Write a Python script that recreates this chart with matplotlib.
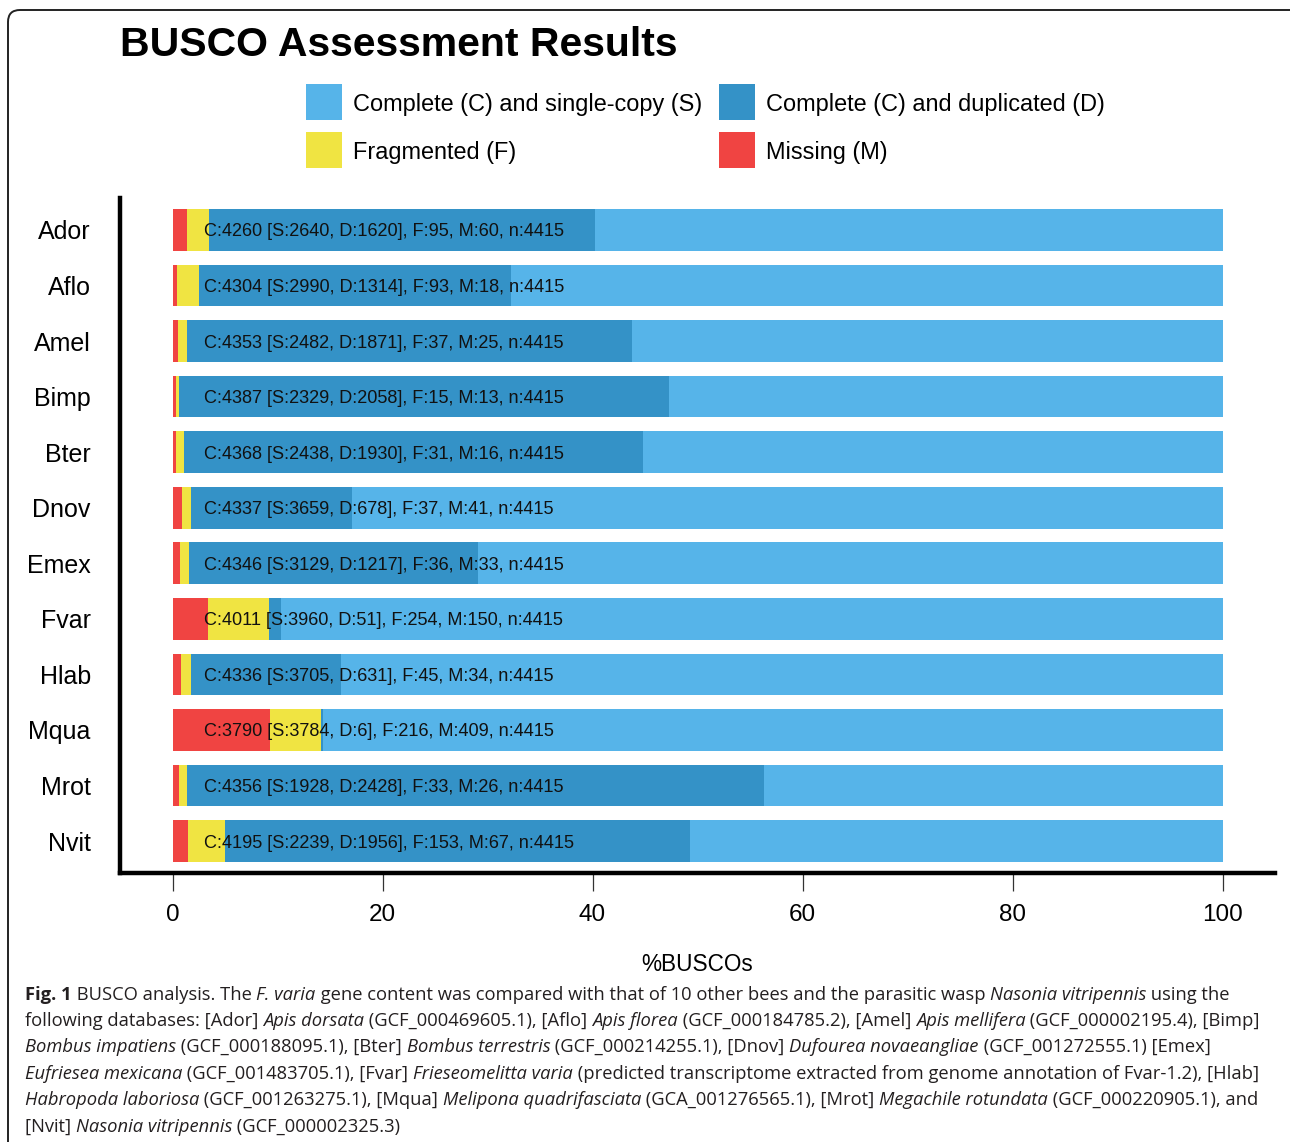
import matplotlib
matplotlib.use("Agg")
import matplotlib.pyplot as plt
from matplotlib.patches import FancyBboxPatch, Rectangle
from matplotlib.transforms import IdentityTransform
import numpy as np

plt.rcParams['font.family'] = ['Liberation Sans', 'DejaVu Sans']

species = ["Ador", "Aflo", "Amel", "Bimp", "Bter", "Dnov", "Emex", "Fvar", "Hlab", "Mqua", "Mrot", "Nvit"]
single = [2640, 2990, 2482, 2329, 2438, 3659, 3129, 3960, 3705, 3784, 1928, 2239]
dup = [1620, 1314, 1871, 2058, 1930, 678, 1217, 51, 631, 6, 2428, 1956]
frag = [95, 93, 37, 15, 31, 37, 36, 254, 45, 216, 33, 153]
miss = [60, 18, 25, 13, 16, 41, 33, 150, 34, 409, 26, 67]
total = [4415] * 12
xticks = [0, 20, 40, 60, 80, 100]

col_S = "#56B4E9"
col_D = "#3492C7"
col_F = "#F0E442"
col_M = "#F04442"

W, H = 1290, 1142
fig = plt.figure(figsize=(W / 100, H / 100), dpi=100)

def fx(px):
    return px / W

def fy(py):
    return 1 - py / H

# axes: left 120, right 1275, top 198, bottom 873 (pixels from top)
ax = fig.add_axes([fx(120), fy(873), fx(1275) - fx(120), (873 - 198) / H])

S = np.array(single) / np.array(total) * 100
D = np.array(dup) / np.array(total) * 100
F = np.array(frag) / np.array(total) * 100
M = np.array(miss) / np.array(total) * 100
y = np.arange(len(species)) + 1
h = 0.75
ax.barh(y, M, left=0, height=h, color=col_M, linewidth=0)
ax.barh(y, F, left=M, height=h, color=col_F, linewidth=0)
ax.barh(y, D, left=M + F, height=h, color=col_D, linewidth=0)
ax.barh(y, S, left=M + F + D, height=h, color=col_S, linewidth=0)

for i in range(len(species)):
    c = single[i] + dup[i]
    lab = f"C:{c} [S:{single[i]}, D:{dup[i]}], F:{frag[i]}, M:{miss[i]}, n:{total[i]}"
    ax.text(3, y[i], lab, ha="left", va="center_baseline", fontsize=13.1, color="#111111")

ax.set_xlim(-5, 105)
ax.set_ylim(12.576, 0.424)
ax.set_yticks(y)
ax.set_yticklabels(species, fontsize=18)
ax.set_xticks(xticks)
ax.set_xticklabels([str(t) for t in xticks], fontsize=17.5)
ax.tick_params(axis="y", length=0, pad=21)
ax.tick_params(axis="x", length=13, width=0.9, color="#333333", pad=9)
for s in ["top", "right"]:
    ax.spines[s].set_visible(False)
ax.spines["left"].set_linewidth(3.2)
ax.spines["bottom"].set_linewidth(3.2)
ax.spines["left"].set_capstyle("projecting")
ax.spines["bottom"].set_capstyle("projecting")
ax.set_xlabel("%BUSCOs", fontsize=16.3, labelpad=20)

# Title
fig.text(fx(120), fy(45), "BUSCO Assessment Results", fontsize=29.5, fontweight="bold",
         ha="left", va="center")

# Legend (manual)
leg = [(306, 102, col_S, "Complete (C) and single-copy (S)"),
       (719, 102, col_D, "Complete (C) and duplicated (D)"),
       (306, 150, col_F, "Fragmented (F)"),
       (719, 150, col_M, "Missing (M)")]
for (x0, yc, colr, txt) in leg:
    fig.patches.append(Rectangle((fx(x0), fy(yc + 18)), 36 / W, 36 / H,
                                 transform=fig.transFigure, facecolor=colr, edgecolor="none"))
    fig.text(fx(x0 + 47), fy(yc + 2), txt, fontsize=16.9, ha="left", va="center")

# Border (rounded box, open to right/bottom)
border = FancyBboxPatch((8, -40), W + 40, H - 10 + 40,
                        boxstyle="round,pad=0,rounding_size=12",
                        transform=IdentityTransform(), facecolor="none",
                        edgecolor="#222222", linewidth=1.4, clip_on=False)
fig.patches.append(border)

# Caption with mixed styles
cap_font = ["Open Sans", "DejaVu Sans"]
cap_size = 13.25
cap_color = "#231f20"
lines = [
    [("Fig. 1", "b"), (" BUSCO analysis. The ", "n"), ("F. varia", "i"),
     (" gene content was compared with that of 10 other bees and the parasitic wasp ", "n"),
     ("Nasonia vitripennis", "i"), (" using the", "n")],
    [("following databases: [Ador] ", "n"), ("Apis dorsata", "i"), (" (GCF_000469605.1), [Aflo] ", "n"),
     ("Apis florea", "i"), (" (GCF_000184785.2), [Amel] ", "n"), ("Apis mellifera", "i"),
     (" (GCF_000002195.4), [Bimp]", "n")],
    [("Bombus impatiens", "i"), (" (GCF_000188095.1), [Bter] ", "n"), ("Bombus terrestris", "i"),
     (" (GCF_000214255.1), [Dnov] ", "n"), ("Dufourea novaeangliae", "i"),
     (" (GCF_001272555.1) [Emex]", "n")],
    [("Eufriesea mexicana", "i"), (" (GCF_001483705.1), [Fvar] ", "n"), ("Frieseomelitta varia", "i"),
     (" (predicted transcriptome extracted from genome annotation of Fvar-1.2), [Hlab]", "n")],
    [("Habropoda laboriosa", "i"), (" (GCF_001263275.1), [Mqua] ", "n"), ("Melipona quadrifasciata", "i"),
     (" (GCA_001276565.1), [Mrot] ", "n"), ("Megachile rotundata", "i"), (" (GCF_000220905.1), and", "n")],
    [("[Nvit] ", "n"), ("Nasonia vitripennis", "i"), (" (GCF_000002325.3)", "n")],
]
line_y = [995, 1021, 1047, 1074, 1100, 1127]
fig.canvas.draw()
renderer = fig.canvas.get_renderer()
for runs, ly in zip(lines, line_y):
    xpix = 25
    for txt, st in runs:
        kw = dict(fontsize=cap_size, color=cap_color, family=cap_font, ha="left", va="center")
        if st == "b":
            kw["fontweight"] = "bold"
        if st == "i":
            kw["style"] = "italic"
        t = fig.text(fx(xpix), fy(ly), txt, **kw)
        bb = t.get_window_extent(renderer=renderer)
        xpix += bb.width

fig.savefig("out.png", dpi=100)
